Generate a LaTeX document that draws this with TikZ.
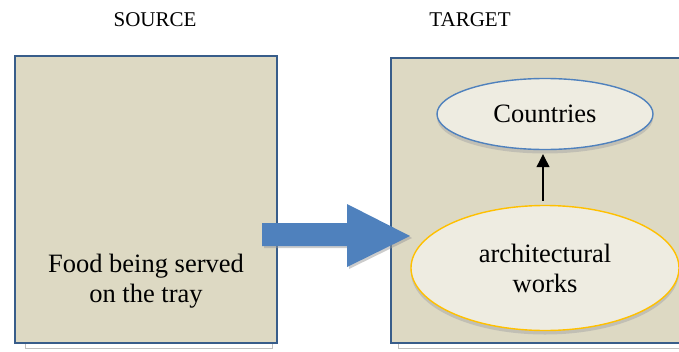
\documentclass[tikz,border=0pt]{standalone}
\usepackage{fontspec}
\setmainfont{Liberation Serif}
\usetikzlibrary{shapes.geometric,arrows.meta,shadows}
\definecolor{boxfill}{HTML}{DDD9C3}
\definecolor{boxline}{HTML}{385D8A}
\definecolor{ellfill}{HTML}{EEECE1}
\definecolor{accblue}{HTML}{4F81BD}
\definecolor{accgold}{HTML}{FFC000}
\tikzset{
  panel/.style={draw=boxline, line width=1.4pt, fill=boxfill},
  under/.style={draw=black!25, fill=white, line width=0.8pt},
  oval/.style={ellipse, fill=ellfill, line width=1.4pt, inner sep=0pt,
    drop shadow={shadow xshift=0pt, shadow yshift=-4pt, fill=black!35, opacity=0.5}},
  head/.style={font=\fontsize{21}{24}\selectfont},
  body/.style={font=\fontsize{26.5}{30}\selectfont, align=center},
}
\begin{document}
\begin{tikzpicture}[x=1pt,y=-1pt]
\useasboundingbox (0,0) rectangle (679,351);
\begin{scope}
\clip (0,0) rectangle (679,351);
% headings
\node[head] (src) at (155,20) {SOURCE};
\node[head] (tgt) at (470,20) {TARGET};
% left panel
\draw[under] (25,60) rectangle (272,348);
\draw[panel] (15,56) rectangle (277,343);
\node[body] (food) at (146,281) {Food being served\\on the tray};
% right panel
\draw[under] (398,60) rectangle (700,348);
\draw[panel] (391,58) rectangle (720,343);
% ellipses
\node[oval, draw=accblue, minimum width=216pt, minimum height=71pt, body] (countries) at (545,114) {Countries};
\node[oval, draw=accgold, minimum width=268pt, minimum height=125pt, body] (arch) at (545,268) {architectural\\works};
\draw[line width=1.2pt, -{Triangle[length=13pt,width=13pt]}, shorten <=4pt, shorten >=4pt] ([xshift=-2pt]arch.north) -- ([xshift=-2pt]countries.south);
% block arrow
\fill[accblue, drop shadow={shadow xshift=2pt, shadow yshift=-2pt, fill=black!40, opacity=0.5}]
  (262,223) -- (347,223) -- (347,204) -- (410,236) -- (347,267) -- (347,246) -- (262,246) -- cycle;
\end{scope}
\end{tikzpicture}
\end{document}
